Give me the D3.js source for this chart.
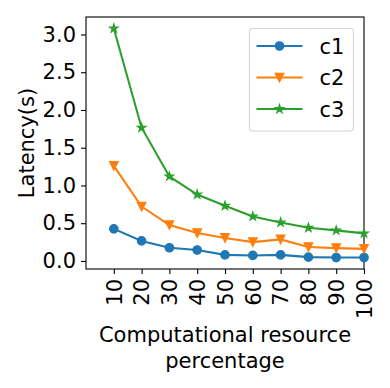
<!DOCTYPE html>
<html>
<head>
<meta charset="utf-8">
<script src="https://cdn.jsdelivr.net/npm/d3@7.9.0/dist/d3.min.js"></script>
<style>
  body { margin: 0; background: #fff; }
  svg { display: block; font-family: "DejaVu Sans", sans-serif; }
</style>
</head>
<body>
<div id="chart"></div>
<script>
// --- data ---
const percentages = [10, 20, 30, 40, 50, 60, 70, 80, 90, 100];
const c1 = [0.425, 0.265, 0.175, 0.145, 0.08, 0.073, 0.08, 0.05, 0.045, 0.045];
const c2 = [1.26, 0.72, 0.475, 0.37, 0.305, 0.25, 0.285, 0.185, 0.17, 0.16];
const c3 = [3.08, 1.765, 1.12, 0.88, 0.73, 0.59, 0.51, 0.44, 0.405, 0.365];
const seriesNames = ['c1', 'c2', 'c3'];
const yTicks = [0, 0.5, 1.0, 1.5, 2.0, 2.5, 3.0];

const series = [
  { name: seriesNames[0], values: c1, color: '#1f77b4', marker: 'circle' },
  { name: seriesNames[1], values: c2, color: '#ff7f0e', marker: 'triangle' },
  { name: seriesNames[2], values: c3, color: '#2ca02c', marker: 'star' },
];

const width = 390;
const height = 388;
const margin = { top: 17, right: 26, bottom: 119, left: 86 };
const fontSize = 21;
const ms = 8.3; // marker size in px

const svg = d3.select('#chart')
  .append('svg')
  .attr('width', width)
  .attr('height', height);

// y limits with matplotlib-like 5% padding
const allVals = [...c1, ...c2, ...c3];
const [ymin, ymax] = d3.extent(allVals);
const pad = (ymax - ymin) * 0.05;

const x = d3.scaleLinear()
  .domain([0, 100])
  .range([margin.left, width - margin.right]);

const y = d3.scaleLinear()
  .domain([ymin - pad, ymax + pad])
  .range([height - margin.bottom, margin.top]);

// marker path builders (centered at 0,0)
function markerPath(type, s) {
  const r = s / 2;
  if (type === 'circle') {
    return d3.arc()({ innerRadius: 0, outerRadius: r, startAngle: 0, endAngle: 2 * Math.PI });
  }
  if (type === 'triangle') {
    return `M${-r},${-r}L${r},${-r}L0,${r}Z`;
  }
  // 5 point star, inner radius ratio like matplotlib
  const inner = r * 0.381966;
  const pts = d3.range(10).map((i) => {
    const a = -Math.PI / 2 + i * Math.PI / 5;
    const rr = i % 2 === 0 ? r : inner;
    return [rr * Math.cos(a), rr * Math.sin(a)];
  });
  return 'M' + pts.map((p) => p.join(',')).join('L') + 'Z';
}

// axes
const xAxis = d3.axisBottom(x)
  .tickValues(percentages)
  .tickSize(5)
  .tickPadding(5);

const yAxis = d3.axisLeft(y)
  .tickValues(yTicks)
  .tickFormat(d3.format('.1f'))
  .tickSize(5)
  .tickPadding(5);

const gx = svg.append('g')
  .attr('transform', `translate(0, ${height - margin.bottom})`)
  .call(xAxis);

gx.selectAll('.tick text')
  .attr('transform', 'rotate(-90)')
  .attr('text-anchor', 'end')
  .attr('dy', '0.35em')
  .attr('x', -10)
  .attr('y', 0);

const gy = svg.append('g')
  .attr('transform', `translate(${margin.left}, 0)`)
  .call(yAxis);

[gx, gy].forEach((g) => {
  g.select('.domain').remove();
  g.selectAll('.tick line').attr('stroke', '#000').attr('stroke-width', 1.1);
  g.selectAll('.tick text')
    .attr('fill', '#000')
    .style('font-size', fontSize + 'px')
    .style('font-family', '"DejaVu Sans", sans-serif');
});

// frame
svg.append('rect')
  .attr('x', margin.left)
  .attr('y', margin.top)
  .attr('width', width - margin.left - margin.right)
  .attr('height', height - margin.top - margin.bottom)
  .attr('fill', 'none')
  .attr('stroke', '#000')
  .attr('stroke-width', 1.1);

// lines + markers
const line = d3.line()
  .x((d, i) => x(percentages[i]))
  .y((d) => y(d));

series.forEach((s) => {
  const g = svg.append('g');
  g.append('path')
    .attr('d', line(s.values))
    .attr('fill', 'none')
    .attr('stroke', s.color)
    .attr('stroke-width', 2.1);
  g.selectAll('path.mark')
    .data(s.values)
    .join('path')
    .attr('class', 'mark')
    .attr('d', markerPath(s.marker, ms))
    .attr('transform', (d, i) => `translate(${x(percentages[i])}, ${y(d)})`)
    .attr('fill', s.color)
    .attr('stroke', s.color)
    .attr('stroke-width', 1.4)
    .attr('stroke-linejoin', 'miter');
});

// axis labels
svg.append('text')
  .attr('transform', `translate(34, ${(margin.top + height - margin.bottom) / 2}) rotate(-90)`)
  .attr('text-anchor', 'middle')
  .style('font-size', fontSize + 'px')
  .text('Latency(s)');

const xl = svg.append('text')
  .attr('text-anchor', 'middle')
  .style('font-size', fontSize + 'px');
xl.append('tspan')
  .attr('x', (margin.left + width - margin.right) / 2)
  .attr('y', 342)
  .text('Computational resource');
xl.append('tspan')
  .attr('x', (margin.left + width - margin.right) / 2)
  .attr('y', 368)
  .text('percentage');

// legend
const legend = svg.append('g').attr('transform', 'translate(249.5, 28.5)');
legend.append('rect')
  .attr('width', 104)
  .attr('height', 102.5)
  .attr('rx', 3)
  .attr('fill', 'rgba(255,255,255,0.8)')
  .attr('stroke', '#d6d6d6')
  .attr('stroke-width', 1.1);

series.forEach((s, i) => {
  const row = legend.append('g').attr('transform', `translate(0, ${17.5 + i * 31.5})`);
  row.append('line')
    .attr('x1', 7).attr('x2', 53)
    .attr('stroke', s.color)
    .attr('stroke-width', 2.1);
  row.append('path')
    .attr('d', markerPath(s.marker, ms))
    .attr('transform', 'translate(30, 0)')
    .attr('fill', s.color)
    .attr('stroke', s.color)
    .attr('stroke-width', 1.4);
  row.append('text')
    .attr('x', 70)
    .attr('dy', '0.36em')
    .style('font-size', fontSize + 'px')
    .text(s.name);
});
</script>
</body>
</html>
